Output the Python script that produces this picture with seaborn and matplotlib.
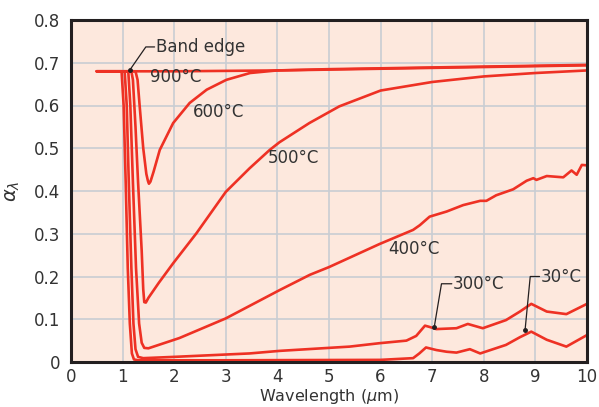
import numpy as np
import pandas as pd
import matplotlib
matplotlib.use("Agg")
import matplotlib.pyplot as plt
import seaborn as sns

# spectral absorptivity curves
wl_900 = [0.5, 1.0, 2.0, 3.0, 4.0, 5.0, 6.0, 7.0, 8.0, 9.0, 10.0]
ab_900 = [0.68, 0.68, 0.68, 0.681, 0.682, 0.684, 0.686, 0.688, 0.69, 0.692, 0.694]

wl_600 = [0.5, 1.25, 1.29, 1.33, 1.40, 1.46, 1.49, 1.51, 1.54, 1.60, 1.72, 1.98, 2.30, 2.63,
          3.01, 3.47, 3.99, 5.0, 6.0, 7.0, 8.0, 9.0, 10.0]
ab_600 = [0.68, 0.68, 0.66, 0.60, 0.50, 0.44, 0.424, 0.417, 0.422, 0.445, 0.496, 0.559, 0.606,
          0.637, 0.66, 0.676, 0.682, 0.685, 0.687, 0.689, 0.691, 0.693, 0.695]

wl_500 = [0.5, 1.17, 1.20, 1.25, 1.30, 1.37, 1.40, 1.42, 1.45, 1.50, 1.70, 1.98, 2.43, 3.0,
          3.46, 3.85, 4.04, 4.62, 5.2, 6.0, 7.0, 8.0, 9.0, 10.0]
ab_500 = [0.68, 0.68, 0.66, 0.55, 0.42, 0.26, 0.17, 0.14, 0.139, 0.15, 0.185, 0.231, 0.301,
          0.398, 0.453, 0.496, 0.514, 0.559, 0.598, 0.635, 0.655, 0.668, 0.676, 0.682]

wl_400 = [0.5, 1.11, 1.15, 1.20, 1.26, 1.32, 1.37, 1.42, 1.50, 2.10, 3.0, 4.04, 4.63, 5.0,
          5.98, 6.63, 6.76, 6.95, 7.28, 7.6, 7.93, 8.05, 8.24, 8.57, 8.83, 8.96, 9.02, 9.22,
          9.54, 9.7, 9.8, 9.9, 10.0]
ab_400 = [0.68, 0.68, 0.60, 0.42, 0.22, 0.09, 0.045, 0.033, 0.032, 0.056, 0.102, 0.168, 0.204,
          0.222, 0.276, 0.309, 0.32, 0.34, 0.352, 0.367, 0.377, 0.377, 0.39, 0.404, 0.424,
          0.43, 0.426, 0.435, 0.432, 0.448, 0.438, 0.461, 0.46]

wl_300 = [0.5, 1.04, 1.08, 1.12, 1.17, 1.21, 1.25, 1.30, 1.40, 2.0, 3.46, 4.04, 5.4, 5.98,
          6.5, 6.69, 6.86, 6.95, 7.08, 7.47, 7.69, 7.98, 8.43, 8.7, 8.92, 9.22, 9.6, 10.0]
ab_300 = [0.68, 0.68, 0.60, 0.42, 0.22, 0.09, 0.03, 0.012, 0.009, 0.012, 0.02, 0.026, 0.036,
          0.044, 0.05, 0.061, 0.085, 0.082, 0.077, 0.079, 0.089, 0.079, 0.098, 0.118, 0.136,
          0.118, 0.112, 0.136]

wl_30 = [0.5, 0.98, 1.02, 1.06, 1.10, 1.14, 1.18, 1.22, 1.30, 3.0, 6.0, 6.63, 6.75, 6.88,
         7.08, 7.28, 7.47, 7.73, 7.93, 8.43, 8.7, 8.92, 9.22, 9.6, 10.0]
ab_30 = [0.68, 0.68, 0.60, 0.42, 0.22, 0.09, 0.02, 0.006, 0.004, 0.004, 0.005, 0.009, 0.02,
         0.034, 0.028, 0.024, 0.022, 0.03, 0.02, 0.04, 0.058, 0.071, 0.052, 0.036, 0.063]

curves = {"900": (wl_900, ab_900), "600": (wl_600, ab_600), "500": (wl_500, ab_500),
          "400": (wl_400, ab_400), "300": (wl_300, ab_300), "30": (wl_30, ab_30)}

rows = []
for name, (wl, ab) in curves.items():
    for w, a in zip(wl, ab):
        rows.append({"curve": name, "wavelength": w, "alpha": a})
df = pd.DataFrame(rows)

RED = "#ee3124"
BG = "#fde8dd"
GRID = "#c9cdd3"
INK = "#333333"

sns.set_style("whitegrid", {"axes.facecolor": BG, "grid.color": GRID,
                            "axes.edgecolor": "#231f20"})
plt.rcParams["font.family"] = ["DejaVu Sans"]
plt.rcParams["mathtext.fontset"] = "dejavusans"

fig = plt.figure(figsize=(5.99, 4.07), dpi=100)
ax = fig.add_axes([71 / 599, 45 / 407, 516 / 599, 342 / 407])

sns.lineplot(data=df, x="wavelength", y="alpha", hue="curve",
             palette={k: RED for k in curves}, sort=False, estimator=None,
             legend=False, lw=1.9, ax=ax)

ax.set_xlim(0, 10)
ax.set_ylim(0, 0.8)
ax.set_xticks(range(0, 11))
ax.set_yticks(np.arange(0, 0.81, 0.1))
ax.set_yticklabels(["0", "0.1", "0.2", "0.3", "0.4", "0.5", "0.6", "0.7", "0.8"])
ax.tick_params(labelsize=12, colors=INK, length=0)
ax.tick_params(axis="x", pad=4)
ax.tick_params(axis="y", pad=8)
ax.grid(True, color=GRID, lw=1.2)
for sp in ax.spines.values():
    sp.set_linewidth(2.2)
    sp.set_color("#231f20")

ax.set_xlabel(r"Wavelength ($\mu$m)", fontsize=11.5, color=INK, labelpad=1)
ax.set_ylabel(r"$\alpha_\lambda$", fontsize=14, color=INK, labelpad=8)

# curve labels
lbl = dict(fontsize=12, color=INK)
ax.text(1.53, 0.655, "900°C", **lbl)
ax.text(2.37, 0.573, "600°C", **lbl)
ax.text(3.82, 0.465, "500°C", **lbl)
ax.text(6.15, 0.253, "400°C", **lbl)

# leader lines
def leader(pt, elbow, end, text):
    ax.plot([pt[0], elbow[0], end[0]], [pt[1], elbow[1], end[1]], color="#231f20", lw=0.9)
    ax.plot([pt[0]], [pt[1]], "o", color="#231f20", ms=2.5)
    ax.text(end[0] + 0.02, end[1], text, va="center", **lbl)

leader((1.14, 0.683), (1.45, 0.737), (1.62, 0.737), "Band edge")
leader((7.04, 0.082), (7.18, 0.183), (7.38, 0.183), "300°C")
leader((8.8, 0.075), (8.9, 0.2), (9.08, 0.2), "30°C")

fig.savefig("out.png", dpi=100)
